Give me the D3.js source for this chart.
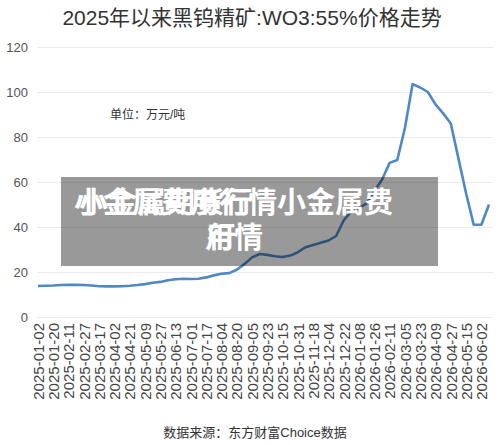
<!DOCTYPE html>
<html>
<head>
<meta charset="utf-8">
<script src="https://cdn.jsdelivr.net/npm/d3@7"></script>
<style>
  body { margin: 0; background: #fff; }
  svg { display: block; font-family: "Liberation Sans", "Noto Sans CJK SC", sans-serif; }
</style>
</head>
<body>
<svg id="chart"></svg>
<script>
// tick labels on x axis, one every 12 trading days
var labels = ["2025-01-02", "2025-01-20", "2025-02-11", "2025-02-27", "2025-03-17", "2025-04-02",
  "2025-04-21", "2025-05-09", "2025-05-27", "2025-06-13", "2025-07-01", "2025-07-17",
  "2025-08-04", "2025-08-20", "2025-09-05", "2025-09-23", "2025-10-15", "2025-10-31",
  "2025-11-18", "2025-12-04", "2025-12-22", "2026-01-08", "2026-01-26", "2026-02-11",
  "2026-03-05", "2026-03-23", "2026-04-09", "2026-04-27", "2026-05-15", "2026-06-02"];
var labelStep = 12;

// price (万元/吨), read every 6 trading days
var values = [13.8, 13.9, 14.0, 14.2, 14.3, 14.3, 14.2, 14.0, 13.7, 13.6,
  13.6, 13.7, 13.9, 14.2, 14.6, 15.2, 15.6, 16.3, 16.8, 17.0,
  16.9, 17.0, 17.6, 18.5, 19.2, 19.5, 21.0, 23.5, 26.5, 28.0,
  27.6, 27.0, 26.7, 27.3, 28.8, 31.0, 32.0, 33.0, 34.0, 36.0,
  43.0, 47.0, 48.5, 50.5, 56.0, 61.0, 68.5, 69.8, 84.0, 103.5,
  102.0, 100.0, 94.5, 90.5, 86.0, 70.5, 55.0, 41.0, 41.0, 50.0];
var valueStep = 6;

var yTicks = [0, 20, 40, 60, 80, 100, 120];

var width = 500, height = 445;
var svg = d3.select("#chart").attr("width", width).attr("height", height);

var x = d3.scaleLinear()
  .domain([0, (values.length - 1) * valueStep])
  .range([38, 489]);
var y = d3.scaleLinear().domain([0, 120]).range([317, 47]);

// title
svg.append("text")
  .attr("x", 252).attr("y", 25)
  .attr("text-anchor", "middle")
  .style("font-size", "21px").style("fill", "#333")
  .text("2025年以来黑钨精矿:WO3:55%价格走势");

// y axis + grid
var yAxis = svg.append("g")
  .attr("transform", "translate(37,0)")
  .call(d3.axisLeft(y).tickValues(yTicks).tickSize(-(493 - 37)).tickPadding(9));
yAxis.select(".domain").remove();
yAxis.selectAll("line").attr("stroke", "#ebebeb");
yAxis.selectAll("text").style("font-size", "13px").style("fill", "#555");

// x axis labels
var xAxis = svg.append("g")
  .attr("transform", "translate(0,317)")
  .call(d3.axisBottom(x)
    .tickValues(labels.map(function (d, i) { return i * labelStep; }))
    .tickFormat(function (d) { return labels[d / labelStep]; })
    .tickSize(0));
xAxis.select(".domain").remove();
xAxis.selectAll("text")
  .attr("transform", "rotate(-90)")
  .attr("x", -6).attr("y", 0).attr("dy", "0.35em")
  .style("text-anchor", "end")
  .style("font-size", "15px").style("fill", "#444");

// unit
svg.append("text")
  .attr("x", 110).attr("y", 119)
  .style("font-size", "12px").style("fill", "#333")
  .text("单位：万元/吨");

// price line
var line = d3.line()
  .x(function (d, i) { return x(i * valueStep); })
  .y(function (d) { return y(d); });

svg.append("path")
  .datum(values)
  .attr("d", line)
  .attr("fill", "none")
  .attr("stroke", "#4f88c4")
  .attr("stroke-width", 2.6)
  .attr("stroke-linejoin", "round");

// source
svg.append("text")
  .attr("x", 255).attr("y", 437)
  .attr("text-anchor", "middle")
  .style("font-size", "13px").style("fill", "#333")
  .text("数据来源：东方财富Choice数据");

// watermark overlay
svg.append("rect")
  .attr("x", 61).attr("y", 177)
  .attr("width", 377).attr("height", 89)
  .attr("fill", "rgba(0,0,0,0.4)");

var wm = svg.append("g")
  .style("font-family", "'Noto Sans CJK SC', sans-serif")
  .style("font-weight", "bold")
  .style("font-size", "29px")
  .style("fill", "#fff");
wm.append("text").attr("x", 74).attr("y", 213).text("小金属费用行情小金属费");
wm.append("text").attr("x", 79).attr("y", 213).text("小金属期货行");
wm.append("text").attr("x", 205).attr("y", 248).text("用情");
wm.append("text").attr("x", 207).attr("y", 248).text("行");
</script>
</body>
</html>
